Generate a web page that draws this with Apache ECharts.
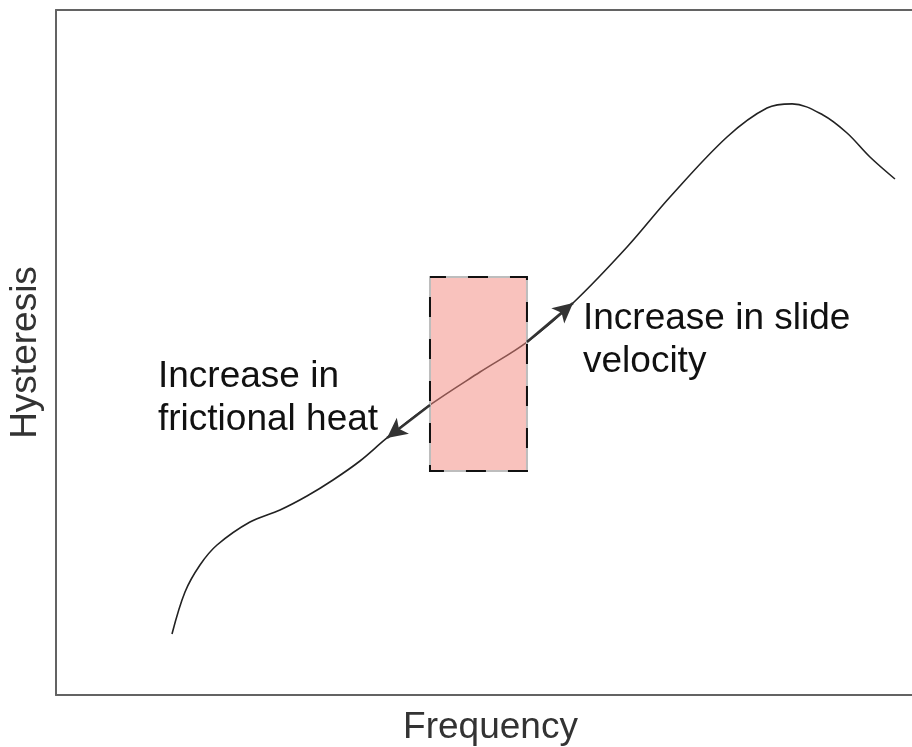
<!DOCTYPE html>
<html>
<head>
<meta charset="utf-8">
<script src="https://cdn.jsdelivr.net/npm/echarts@6/dist/echarts.min.js"></script>
<style>
html,body{margin:0;padding:0;background:#fff;}
#chart{width:912px;height:747px;}
</style>
</head>
<body>
<div id="chart"></div>
<script>
// Curve (arbitrary units 0..100 on both axes)
const frequency = [13.55, 15.07, 16.82, 18.81, 22.66, 26.17, 29.32, 32.36, 35.51, 38.67, 43.69, 49.53, 55.02, 60.40, 66.71, 71.73, 78.39, 83.06, 86.00, 89.60, 92.41, 95.09, 98.01];
const hysteresis = [8.91, 15.04, 18.98, 21.90, 25.26, 27.01, 29.05, 31.39, 34.16, 37.52, 42.34, 47.15, 51.53, 57.23, 65.40, 72.70, 81.46, 85.69, 86.30, 84.67, 82.04, 78.54, 75.33];

// Highlighted region and arrows (data units)
const boxFrequency = [43.69, 55.02];
const boxHysteresis = [32.70, 61.02];
const arrowUpFrom = [55.02, 51.53];
const arrowUpTo = [60.40, 57.23];
const arrowDownFrom = [43.69, 42.34];
const arrowDownTo = [38.67, 37.52];

// Texts
const xTitle = 'Frequency';
const yTitle = 'Hysteresis';
const noteUp = 'Increase in slide\nvelocity';
const noteDown = 'Increase in\nfrictional heat';

const FONT = '"Liberation Sans", Arial, Helvetica, sans-serif';
const chart = echarts.init(document.getElementById('chart'), null, {renderer: 'canvas'});

const curve = frequency.map((f, i) => [f, hysteresis[i]]);
const frameLine = {show: true, lineStyle: {color: '#636363', width: 2}};

chart.setOption({
  animation: false,
  backgroundColor: '#ffffff',
  grid: {left: 56, right: 0, top: 10, bottom: 52, outerBoundsMode: 'none', containLabel: false},
  xAxis: [{
    type: 'value', min: 0, max: 100, position: 'bottom',
    axisLine: frameLine, axisTick: {show: false}, axisLabel: {show: false}, splitLine: {show: false},
    name: xTitle, nameLocation: 'middle', nameGap: 14,
    nameTextStyle: {fontFamily: FONT, fontSize: 37, color: '#333333', padding: [0, 0, 0, 13]}
  }, {
    type: 'value', min: 0, max: 100, position: 'top',
    axisLine: frameLine, axisTick: {show: false}, axisLabel: {show: false}, splitLine: {show: false}
  }],
  yAxis: [{
    type: 'value', min: 0, max: 100,
    axisLine: frameLine, axisTick: {show: false}, axisLabel: {show: false}, splitLine: {show: false},
    name: yTitle, nameLocation: 'middle', nameGap: 12,
    nameTextStyle: {fontFamily: FONT, fontSize: 37, color: '#333333'}
  }],
  series: [{
    type: 'line',
    data: curve,
    smooth: 0.35,
    symbol: 'none',
    z: 2,
    lineStyle: {color: '#222222', width: 1.6},
    silent: true
  }, {
    type: 'line',
    data: [],
    z: 3,
    silent: true,
    markArea: {
      silent: true,
      z: 3,
      data: [
        [{coord: [boxFrequency[0], boxHysteresis[1]], itemStyle: {color: 'rgba(243,133,123,0.5)', borderColor: '#bdbdbd', borderWidth: 2, borderType: 'solid'}},
         {coord: [boxFrequency[1], boxHysteresis[0]]}],
        [{coord: [boxFrequency[0], boxHysteresis[1]], itemStyle: {color: 'rgba(0,0,0,0)', borderColor: '#111111', borderWidth: 2, borderType: [20, 22], borderDashOffset: 4}},
         {coord: [boxFrequency[1], boxHysteresis[0]]}]
      ]
    }
  }, {
    type: 'line',
    data: [],
    z: 4,
    silent: true,
    markLine: {
      silent: true,
      z: 5,
      symbol: ['none', 'arrow'],
      symbolSize: [15, 20],
      label: {show: false},
      lineStyle: {color: '#333333', width: 2.5, type: 'solid'},
      data: [
        [{coord: arrowUpFrom}, {coord: arrowUpTo}],
        [{coord: arrowDownFrom}, {coord: arrowDownTo}]
      ]
    }
  }],
  graphic: [{
    type: 'text', left: 583, top: 297,
    style: {text: noteUp, fontFamily: FONT, fontSize: 37, lineHeight: 43, fill: '#111111'}
  }, {
    type: 'text', left: 158, top: 355,
    style: {text: noteDown, fontFamily: FONT, fontSize: 37, lineHeight: 43, fill: '#111111'}
  }]
});
</script>
</body>
</html>
